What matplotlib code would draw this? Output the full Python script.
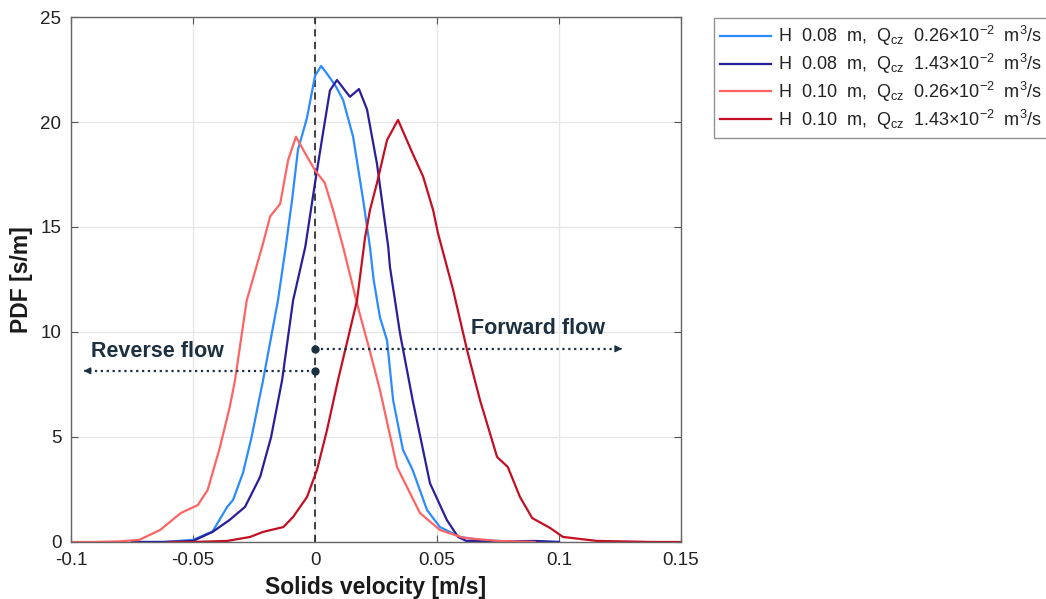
import matplotlib
matplotlib.use("Agg")
import matplotlib.pyplot as plt

plt.rcParams['font.family'] = ['Liberation Sans', 'DejaVu Sans']
plt.rcParams['mathtext.fontset'] = 'custom'
plt.rcParams['mathtext.rm'] = 'Liberation Sans'
plt.rcParams['mathtext.it'] = 'Liberation Sans:italic'
plt.rcParams['mathtext.default'] = 'regular'

# ---- data ----
x_lb = [-0.075, -0.062, -0.05, -0.042, -0.036, -0.0336, -0.0295, -0.026, -0.0213, -0.0152, -0.012, -0.0094,
        -0.007, -0.0033, 0.0, 0.0025, 0.0049, 0.0085, 0.0115, 0.0156, 0.0197, 0.0225, 0.024, 0.0266, 0.0295,
        0.032, 0.036, 0.040, 0.0459, 0.0512, 0.0594, 0.0676, 0.08, 0.1]
y_lb = [0.0, 0.0, 0.1, 0.5, 1.67, 2.0, 3.3, 5.0, 7.7, 11.5, 14.05, 16.3,
        18.67, 20.2, 22.2, 22.67, 22.3, 21.7, 21.05, 19.3, 16.3, 14.05, 12.5, 10.7, 9.6,
        6.76, 4.4, 3.43, 1.52, 0.71, 0.24, 0.1, 0.02, 0.0]

x_db = [-0.075, -0.061, -0.05, -0.042, -0.035, -0.0287, -0.0225, -0.018, -0.0135, -0.009, -0.004, 0.0,
        0.0033, 0.0061, 0.009, 0.0143, 0.018, 0.0213, 0.0254, 0.03, 0.0307, 0.0348, 0.040, 0.0471, 0.054,
        0.0586, 0.062, 0.075, 0.09, 0.1]
y_db = [0.0, 0.0, 0.05, 0.48, 1.05, 1.67, 3.1, 5.0, 7.7, 11.5, 14.05, 17.1,
        19.5, 21.5, 22.0, 21.2, 21.57, 20.6, 18.0, 14.05, 13.1, 9.95, 6.76, 2.8, 1.05,
        0.24, 0.05, 0.02, 0.05, 0.0]

x_lr = [-0.1, -0.091, -0.08, -0.072, -0.0635, -0.055, -0.048, -0.044, -0.039, -0.035, -0.0328, -0.028,
        -0.0217, -0.0184, -0.0143, -0.011, -0.0078, -0.004, 0.0, 0.004, 0.0074, 0.0115, 0.018, 0.022,
        0.0266, 0.0336, 0.043, 0.0512, 0.0607, 0.0746, 0.09]
y_lr = [0.0, 0.0, 0.03, 0.1, 0.57, 1.38, 1.76, 2.48, 4.5, 6.4, 7.7, 11.5,
        14.05, 15.5, 16.1, 18.2, 19.3, 18.5, 17.7, 17.1, 15.8, 14.05, 11.0, 9.3,
        7.24, 3.57, 1.38, 0.57, 0.2, 0.05, 0.0]

x_dr = [-0.06, -0.05, -0.036, -0.0266, -0.0213, -0.013, -0.009, -0.0033, 0.0008, 0.0049, 0.0094, 0.0172,
        0.0205, 0.0225, 0.0254, 0.0295, 0.034, 0.040, 0.0443, 0.0484, 0.0504, 0.0566, 0.0623, 0.0676,
        0.0746, 0.079, 0.084, 0.089, 0.0963, 0.1016, 0.1156, 0.1385, 0.15]
y_dr = [0.0, 0.0, 0.05, 0.24, 0.48, 0.71, 1.19, 2.14, 3.43, 5.33, 7.7, 11.5,
        14.5, 15.8, 17.1, 19.14, 20.1, 18.5, 17.4, 15.8, 14.7, 12.0, 9.14, 6.76,
        4.05, 3.57, 2.14, 1.14, 0.67, 0.24, 0.05, 0.0, 0.0]

labels = [
    r'H  0.08  m,  Q$_{cz}$  0.26×10$^{-2}$  m$^{3}$/s',
    r'H  0.08  m,  Q$_{cz}$  1.43×10$^{-2}$  m$^{3}$/s',
    r'H  0.10  m,  Q$_{cz}$  0.26×10$^{-2}$  m$^{3}$/s',
    r'H  0.10  m,  Q$_{cz}$  1.43×10$^{-2}$  m$^{3}$/s',
]
colors = ['#2b8cff', '#2a1e9c', '#ff6464', '#c40f23']
xticks = [-0.1, -0.05, 0, 0.05, 0.1, 0.15]
xticklabels = ['-0.1', '-0.05', '0', '0.05', '0.1', '0.15']
yticks = [0, 5, 10, 15, 20, 25]

fig = plt.figure(figsize=(10.46, 5.99), dpi=100)
ax = fig.add_axes([0.0679, 0.0952, 0.5832, 0.8764])

series = [(x_lb, y_lb), (x_db, y_db), (x_lr, y_lr), (x_dr, y_dr)]
lines = []
for (xs, ys), c, lab in zip(series, colors, labels):
    ln, = ax.plot(xs, ys, color=c, lw=1.6, label=lab)
    lines.append(ln)

ax.axvline(0, color='#333333', lw=1.3, ls=(0, (4, 3)), zorder=1)

ax.set_xlim(-0.1, 0.15)
ax.set_ylim(0, 25)
ax.set_xticks(xticks)
ax.set_xticklabels(xticklabels)
ax.set_yticks(yticks)
ax.grid(True, color='#e6e6e6', lw=0.9)
ax.set_axisbelow(True)
ax.tick_params(direction='in', top=True, right=True, labelsize=13.5, colors='#555555',
               labelcolor='#222222', length=5)
ax.tick_params(axis='x', pad=7)
ax.tick_params(axis='y', pad=7)
for s in ax.spines.values():
    s.set_color('#666666')
    s.set_linewidth(1.0)

ax.set_xlabel('Solids velocity [m/s]', fontsize=16.5, fontweight='bold', labelpad=5, color='#1a1a1a')
ax.set_ylabel('PDF [s/m]', fontsize=16.5, fontweight='bold', labelpad=5, color='#1a1a1a')

# annotations
ann_c = '#1c3040'
fwd_y, rev_y = 9.2, 8.15
fwd_end, rev_end = 0.127, -0.096
ax.plot([0, fwd_end - 0.002], [fwd_y, fwd_y], ls=':', lw=1.6, color=ann_c)
ax.plot([0, rev_end + 0.002], [rev_y, rev_y], ls=':', lw=1.6, color=ann_c)
ax.plot([0, 0], [fwd_y, rev_y], 'o', ms=5, color=ann_c, ls='none')
ax.annotate('', xy=(fwd_end, fwd_y), xytext=(fwd_end - 0.003, fwd_y),
            arrowprops=dict(arrowstyle='-|>', color=ann_c, lw=1, mutation_scale=10))
ax.annotate('', xy=(rev_end, rev_y), xytext=(rev_end + 0.003, rev_y),
            arrowprops=dict(arrowstyle='-|>', color=ann_c, lw=1, mutation_scale=10))
ax.text(0.0915, 10.15, 'Forward flow', fontsize=15.5, fontweight='bold', color=ann_c,
        ha='center', va='center')
ax.text(-0.0645, 9.05, 'Reverse flow', fontsize=15.5, fontweight='bold', color=ann_c,
        ha='center', va='center')

leg = fig.legend(handles=lines, loc='upper left', bbox_to_anchor=(0.6826, 0.97),
                 fontsize=13, handlelength=2.8, handletextpad=0.4, labelspacing=0.2,
                 frameon=True, fancybox=False, borderpad=0.35, borderaxespad=0)
leg.get_frame().set_edgecolor('#777777')
leg.get_frame().set_linewidth(1.0)
for t in leg.get_texts():
    t.set_color('#222222')

fig.savefig('out.png', dpi=100)
